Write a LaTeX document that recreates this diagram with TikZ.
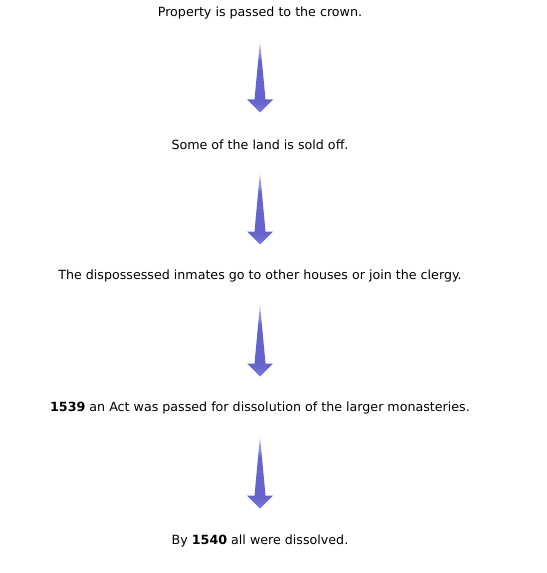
\documentclass[tikz,border=0pt]{standalone}
\usepackage{fontspec}
\setmainfont{DejaVu Sans}
\usepackage{tikz}
\usetikzlibrary{calc,positioning}
\definecolor{flowblue}{HTML}{6464CC}
\definecolor{flowlight}{HTML}{D0D0F2}
\pgfdeclareverticalshading{flowshade}{100bp}{color(0bp)=(flowblue!85!white); color(25bp)=(flowblue!85!white);
  color(33bp)=(flowblue); color(60bp)=(flowblue); color(75bp)=(flowlight); color(100bp)=(flowlight)}
\tikzstyle{txt}=[inner sep=0pt, font=\fontsize{9.5}{12}\selectfont, text=black]
\tikzstyle{flowarrow}=[shading=flowshade, draw=none]
\newcommand{\downarrowshape}[2]{%
 \path[flowarrow] (#1) -- ($(#2)+(5.5,-13)$) -- ($(#2)+(13,-13)$) -- (#2)
   -- ($(#2)+(-13,-13)$) -- ($(#2)+(-5.5,-13)$) -- cycle;}
\begin{document}
\begin{tikzpicture}
 [x=0.75pt, y=-0.75pt]
 \useasboundingbox (0,0) rectangle (546,573);
 \node[txt] (P1) at (260,13.5) {Property is passed to the crown.};
 \node[txt] (P2) at (260,144.5) {Some of the land is sold off.};
 \node[txt] (P3) at (260,276.5) {The dispossessed inmates go to other houses or join the clergy.};
 \node[txt] (P4) at (260,408.5) {\textbf{1539} an Act was passed for dissolution of the larger monasteries.};
 \node[txt] (P5) at (260,540.5) {By \textbf{1540} all were dissolved.};
 \foreach \a/\b in {P1/P2, P2/P3, P3/P4, P4/P5} {
   \coordinate (\a top) at ($(\a)+(0,27.5)$);
   \coordinate (\b tip) at ($(\b)+(0,-32)$);
   \downarrowshape{\a top}{\b tip}
 }
\end{tikzpicture}
\end{document}
